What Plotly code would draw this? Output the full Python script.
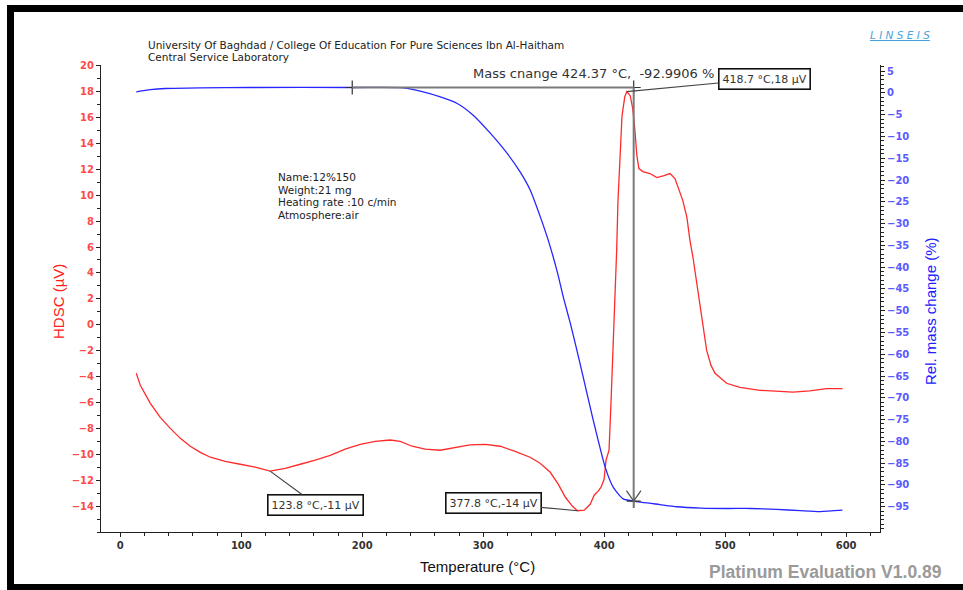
import plotly.graph_objects as go

# ---------------- data ----------------
hdsc_T = [13.2, 16.5, 24.8, 33.0, 41.3, 49.6, 57.8, 66.1, 74.4, 86.7, 99.1, 111.5, 123.8,
          136.3, 148.7, 161.1, 173.5, 185.9, 198.3, 210.7, 223.0, 231.4, 241.2, 252.0,
          264.4, 276.7, 289.0, 301.5, 314.0, 326.3, 338.7, 347.0, 355.4, 362.0, 367.8,
          373.6, 377.8, 383.5, 388.4, 391.7, 395.0, 397.4, 399.9, 401.5, 404.0, 405.7,
          407.3, 409.0, 410.3, 411.4, 413.0, 414.7, 417.0, 418.7, 421.5, 423.6, 425.4,
          427.0, 428.7, 432.0, 437.8, 443.6, 449.4, 454.4, 458.5, 461.0, 465.0, 468.4,
          470.9, 473.4, 476.7, 480.8, 484.7, 488.3, 491.6, 501.2, 512.2, 528.7, 556.0,
          570.0, 583.8, 597.0]
hdsc_uV = [-3.75, -4.68, -6.07, -7.15, -8.00, -8.77, -9.38, -9.85, -10.23, -10.54, -10.77,
           -11.00, -11.30, -11.08, -10.77, -10.46, -10.08, -9.61, -9.23, -9.00, -8.90,
           -9.00, -9.38, -9.61, -9.69, -9.46, -9.27, -9.23, -9.38, -9.77, -10.23, -10.69,
           -11.39, -12.30, -13.30, -14.00, -14.36, -14.32, -13.86, -13.16, -12.85, -12.54,
           -11.93, -10.46, -9.69, -5.80, -1.97, 1.87, 5.73, 9.58, 13.40, 16.10, 17.60,
           18.00, 17.68, 16.68, 14.98, 13.05, 12.05, 11.82, 11.67, 11.36, 11.51, 11.67,
           11.28, 10.58, 9.58, 8.27, 6.50, 5.19, 3.18, 0.33, -1.98, -3.14, -3.75, -4.52,
           -4.83, -5.06, -5.20, -5.10, -4.93, -4.93]

tg_T = [13.2, 24.8, 37.2, 66.1, 107.4, 191.7, 231.4, 237.2, 247.9, 264.5, 278.5, 291.7,
        305.8, 319.8, 330.6, 338.8, 347.1, 353.7, 361.2, 366.4, 371.9, 380.2, 390.9,
        400.8, 407.4, 415.7, 424.37, 446.0, 460.0, 480.0, 501.2, 521.0, 542.5, 562.0,
        578.5, 597.0]
tg_pct = [0.23, 0.73, 1.01, 1.17, 1.24, 1.24, 1.22, 1.01, 0.39, -0.92, -2.43, -5.13,
          -9.25, -13.9, -18.2, -22.3, -28.4, -33.8, -41.1, -47.1, -52.8, -62.3, -75.1,
          -85.9, -90.5, -93.2, -93.7, -94.5, -95.0, -95.3, -95.4, -95.4, -95.6, -95.9,
          -96.1, -95.8]

# annotated points: (T, value, label, label_T, label_value)
peak_pts = [(123.8, -11.3, "123.8 °C,-11 µV", 161.6, -13.9),
            (377.8, -14.36, "377.8 °C,-14 µV", 308.3, -13.74),
            (418.7, 18.0, "418.7 °C,18 µV", 532.2, 18.99)]
mass_T = 424.37
mass_ref_T = 191.7
mass_top = 1.24
mass_bottom = -93.7
mass_label = "Mass cnange 424.37 °C,  -92.9906 %"

x_ticks = [0, 100, 200, 300, 400, 500, 600]
hdsc_ticks = list(range(-14, 21, 2))
tg_ticks = list(range(-95, 6, 5))

header_lines = ["University Of Baghdad / College Of Education For Pure Sciences Ibn Al-Haitham",
                "Central Service Laboratory"]
info_lines = ["Name:12%150", "Weight:21 mg", "Heating rate :10 c/min", "Atmosphere:air"]

# ---------------- figure ----------------
L, R, T, B = 101, 83, 65, 58
W, H = 963, 590
pw, ph = W - L - R, H - T - B


def px(xp):
    return (xp - L) / pw


def py(yp):
    return (H - B - yp) / ph


fig = go.Figure()
fig.add_trace(go.Scatter(x=hdsc_T, y=hdsc_uV, mode="lines",
                         line=dict(color="#ff2b2b", width=1.3), yaxis="y",
                         hoverinfo="skip", showlegend=False))
fig.add_trace(go.Scatter(x=tg_T, y=tg_pct, mode="lines",
                         line=dict(color="#2626ff", width=1.3, shape="spline", smoothing=0.6),
                         yaxis="y2", hoverinfo="skip", showlegend=False))

# mass change lines
gray = "#7a7a7a"
fig.add_shape(type="line", xref="x", yref="y2", x0=mass_ref_T, x1=mass_T,
              y0=mass_top, y1=mass_top, line=dict(color=gray, width=2))
fig.add_shape(type="line", xref="x", yref="y2", x0=mass_T, x1=mass_T,
              y0=mass_top, y1=mass_bottom - 1.5, line=dict(color=gray, width=2))
fig.add_shape(type="path", xref="x", yref="y2",
              path=f"M {mass_T-6} {mass_bottom+2.4} L {mass_T} {mass_bottom} L {mass_T+6} {mass_bottom+2.4}",
              line=dict(color="#555555", width=1.3))
fig.add_trace(go.Scatter(x=[mass_ref_T, mass_T, mass_T], y=[mass_top, mass_top, mass_bottom],
                         mode="markers", yaxis="y2",
                         marker=dict(symbol="cross-thin", size=10,
                                     line=dict(color="#333333", width=1.2)),
                         hoverinfo="skip", showlegend=False))

anns = []
for (xt, yt, txt, lx, ly) in peak_pts:
    anns.append(dict(x=xt, y=yt, xref="x", yref="y", ax=lx, ay=ly,
                     axref="x", ayref="y", text=txt, showarrow=True,
                     arrowhead=0, arrowwidth=1.2, arrowcolor="#444444",
                     font=dict(family="DejaVu Sans", size=11, color="#333333"),
                     bordercolor="#111111", borderwidth=1.6, borderpad=3,
                     bgcolor="white"))

anns.append(dict(x=391, y=19.4, xref="x", yref="y", text=mass_label, showarrow=False,
                 xanchor="center", yanchor="middle",
                 font=dict(family="DejaVu Sans", size=13, color="#333333")))


def paper_text(x, y, text, size, color, family="DejaVu Sans", xanchor="center", angle=0):
    anns.append(dict(x=px(x), y=py(y), xref="paper", yref="paper", xanchor=xanchor,
                     yanchor="middle", showarrow=False, text=text, textangle=angle,
                     font=dict(family=family, size=size, color=color)))


for i, line in enumerate(header_lines):
    paper_text(146, 45 + 12 * i, line, 10.5, "#222222", xanchor="left")
for i, line in enumerate(info_lines):
    paper_text(276, 177 + 12.7 * i, line, 10.5, "#222222", xanchor="left")

paper_text(900, 35, "<i><u>L I N S E I S</u></i>", 10.5, "#4aa3d8")
paper_text(825, 572, "<b>Platinum Evaluation V1.0.89</b>", 17.5, "#9a9a9a", family="Liberation Sans")
paper_text(477, 566, "Temperature (°C)", 15, "#111111", family="Liberation Sans")
paper_text(58, 302, "HDSC (µV)", 15, "#ff2020", family="Liberation Sans", angle=-90)
paper_text(930, 311, "Rel. mass change (%)", 15, "#2020ff", family="Liberation Sans", angle=-90)

# black frame bands
shapes_frame = [
    (7, 5, 963, 12),
    (7, 5, 14, 590),
    (7, 584, 963, 590),
]
for (x0, y0, x1, y1) in shapes_frame:
    fig.add_shape(type="rect", xref="paper", yref="paper",
                  x0=px(x0), x1=px(x1), y0=py(y1), y1=py(y0),
                  fillcolor="black", line=dict(width=0), layer="above")

tickfont_common = dict(family="DejaVu Sans", size=10, weight="bold")

fig.update_layout(
    width=W, height=H,
    margin=dict(l=L, r=R, t=T, b=B),
    paper_bgcolor="white", plot_bgcolor="white",
    showlegend=False,
    annotations=anns,
    xaxis=dict(range=[-16, 628], tickmode="array", tickvals=x_ticks,
               ticks="outside", ticklen=4, tickcolor="#222",
               showline=True, linecolor="#222", linewidth=1, showgrid=False,
               zeroline=False,
               minor=dict(tickmode="linear", tick0=0, dtick=20, ticks="outside",
                          ticklen=3, tickcolor="#222"),
               tickfont=dict(color="#333333", **tickfont_common)),
    yaxis=dict(range=[-16, 20.05], tickmode="array", tickvals=hdsc_ticks,
               ticks="outside", ticklen=4, tickcolor="#222",
               showline=True, linecolor="#222", linewidth=1, showgrid=False,
               zeroline=False,
               minor=dict(tickmode="linear", tick0=0, dtick=1, ticks="outside",
                          ticklen=3, tickcolor="#222"),
               tickfont=dict(color="#ff4a4a", **tickfont_common)),
    yaxis2=dict(range=[-100.8, 6.4], overlaying="y", side="right", anchor="x",
                tickmode="array", tickvals=tg_ticks,
                ticks="outside", ticklen=4, tickcolor="#222",
                showline=True, linecolor="#222", linewidth=1, showgrid=False,
                zeroline=False,
                minor=dict(tickmode="linear", tick0=0, dtick=1, ticks="outside",
                           ticklen=3, tickcolor="#222"),
                tickfont=dict(color="#5a5aff", **tickfont_common)),
)

fig.write_html("out.html", config={"displayModeBar": False},
               post_script=("document.body.style.margin='0px';"
                            "document.body.style.overflow='hidden';"
                            "document.documentElement.style.overflow='hidden';"))
